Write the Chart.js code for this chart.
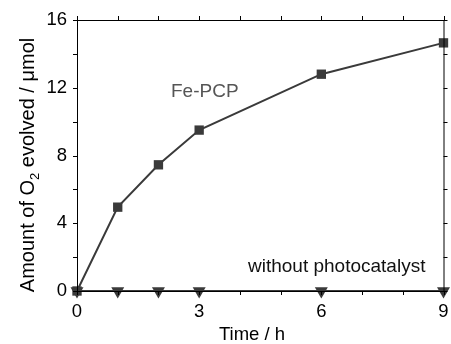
<!DOCTYPE html>
<html>
<head>
<meta charset="utf-8">
<script src="https://cdn.jsdelivr.net/npm/chart.js@4"></script>
<style>
  body { margin: 0; background: #fff; }
</style>
</head>
<body>
<canvas id="chart" width="451" height="344"></canvas>
<script>
let times = [0, 1, 2, 3, 6, 9]
let fePcp = [0, 4.95, 7.45, 9.5, 12.8, 14.65]
let noCatalyst = [0, 0, 0, 0, 0, 0]
let xTicks = [0, 3, 6, 9]
let yTicks = [0, 4, 8, 12, 16]

let fePoints = []
let blankPoints = []
for(let i = 0; i < times.length; ++i) {
	fePoints.push({x: times[i], y: fePcp[i]})
	blankPoints.push({x: times[i], y: noCatalyst[i]})
}

let dark = "#3a3a3a"
let font = "Liberation Sans, Arial, sans-serif"

// frame, outward ticks and text labels
let decor = {
	id: 'decor',
	afterDraw(chart) {
		let ctx = chart.ctx
		let a = chart.chartArea
		let xs = chart.scales.x
		let ys = chart.scales.y
		ctx.save()
		ctx.strokeStyle = "#000"
		ctx.lineWidth = 1
		ctx.strokeRect(a.left + 0.5, a.top + 0.5, a.right - a.left, a.bottom - a.top)
		ctx.beginPath()
		for(let v = 0; v <= 9; v++) {
			let px = Math.round(xs.getPixelForValue(v)) + 0.5
			ctx.moveTo(px, a.bottom); ctx.lineTo(px, a.bottom + 4)
			ctx.moveTo(px, a.top); ctx.lineTo(px, a.top - 4)
		}
		for(let v = 0; v <= 16; v += 2) {
			let py = Math.round(ys.getPixelForValue(v)) + 0.5
			ctx.moveTo(a.left, py); ctx.lineTo(a.left - 4, py)
			ctx.moveTo(a.right, py); ctx.lineTo(a.right + 4, py)
		}
		ctx.stroke()

		ctx.fillStyle = "#555"
		ctx.font = "19px " + font
		ctx.textBaseline = "alphabetic"
		ctx.textAlign = "left"
		ctx.fillText("Fe-PCP", 171, 97)
		ctx.fillStyle = "#111"
		ctx.fillText("without photocatalyst", 248, 272)

		ctx.fillStyle = "#000"
		ctx.font = "18.5px " + font
		ctx.textAlign = "center"
		ctx.fillText("Time / h", 252, 340)

		// y title with subscript
		ctx.translate(34, 165)
		ctx.rotate(-Math.PI / 2)
		let big = "20px " + font
		let small = "13px " + font
		let parts = [["Amount of O", big, 0], ["2", small, 5], [" evolved / \u03bcmol", big, 0]]
		let total = 0
		for(let p of parts) { ctx.font = p[1]; total += ctx.measureText(p[0]).width }
		let x = -total / 2
		ctx.textAlign = "left"
		for(let p of parts) {
			ctx.font = p[1]
			ctx.fillText(p[0], x, p[2])
			x += ctx.measureText(p[0]).width
		}
		ctx.restore()
	}
}

new Chart(document.getElementById('chart'), {
	'type': 'scatter',
	'data': {
		'datasets': [{
			'label': "Fe-PCP",
			'data': fePoints,
			'showLine': true,
			'borderColor': dark,
			'backgroundColor': dark,
			'borderWidth': 2,
			'pointStyle': 'rect',
			'pointRadius': 6.6,
			'pointBorderWidth': 0,
			'clip': false,
		}, {
			'label': "without photocatalyst",
			'data': blankPoints,
			'showLine': true,
			'borderColor': dark,
			'backgroundColor': dark,
			'borderWidth': 2,
			'pointStyle': 'triangle',
			'pointRotation': 180,
			'pointRadius': 7.5,
			'pointBorderWidth': 0,
			'clip': false,
		}]
	},
	'options': {
		'responsive': false,
		'animation': false,
		'layout': {'padding': {'top': 20, 'right': 5, 'left': 0, 'bottom': 0}},
		'plugins': {
			'legend': {'display': false},
			'tooltip': {'enabled': false}
		},
		'scales': {
			'x': {
				'type': 'linear',
				'min': 0,
				'max': 9,
				'afterBuildTicks': s => { s.ticks = xTicks.map(v => ({value: v})) },
				'afterFit': s => { s.height = 53; s.paddingLeft = 0; s.paddingRight = 0 },
				'grid': {'display': false, 'drawTicks': false},
				'border': {'display': false},
				'ticks': {'color': "#000", 'padding': 10, 'font': {'size': 18.5, 'family': font}}
			},
			'y': {
				'type': 'linear',
				'min': 0,
				'max': 16,
				'afterBuildTicks': s => { s.ticks = yTicks.map(v => ({value: v})) },
				'afterFit': s => { s.width = 77; s.paddingTop = 0; s.paddingBottom = 0 },
				'grid': {'display': false, 'drawTicks': false},
				'border': {'display': false},
				'ticks': {'color': "#000", 'padding': 10, 'font': {'size': 18.5, 'family': font}}
			}
		}
	},
	'plugins': [decor]
});
</script>
</body>
</html>
